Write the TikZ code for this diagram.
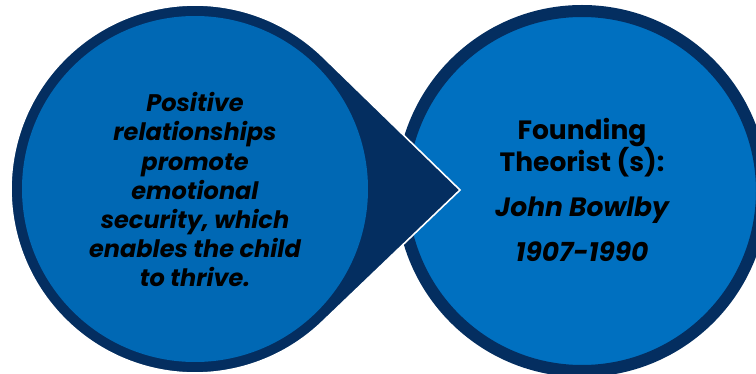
\documentclass[tikz,border=0pt]{standalone}
\usepackage{fontspec}
\setmainfont{Poppins}
\usetikzlibrary{calc}
\definecolor{navyring}{RGB}{4,46,96}
\definecolor{leftblue}{RGB}{0,104,180}
\definecolor{rightblue}{RGB}{0,112,192}
\tikzset{ring node/.style={circle,draw=navyring,line width=12pt,fill=rightblue,minimum size=360pt,inner sep=0pt},
inner node/.style={circle,fill=leftblue,minimum size=346pt,inner sep=0pt},
idea text/.style={align=center,inner sep=0pt,anchor=base,font=\fontsize{24}{29.2}\selectfont\bfseries\itshape},
name text/.style={align=center,inner sep=0pt,anchor=base,font=\fontsize{26.5}{32}\selectfont\bfseries},
}

\begin{document}
\begin{tikzpicture}[x=1pt,y=-1pt]
	\useasboundingbox (0,0) rectangle (756,374);
	\node[ring node] (R) at (582,191) {};
	\coordinate (L) at (195,189);
	\coordinate (tip) at (460,190);
	% pointer of the left circle, outlined in white
	\fill[navyring,draw=white,line width=1.6pt] (tip) -- ($(L)+(46.2:184)$) arc[start angle=46.2,end angle=313.8,radius=184] -- cycle;
	\node[inner node] (Lin) at (L) {};
	
	\node[idea text] (idea) at (195,287) {Positive\\relationships\\promote\\emotional\\security, which\\enables the child\\to thrive.};
	\node[name text] (founding) at (582,172) {Founding\\Theorist (s):};
	\node[name text,font=\fontsize{26.5}{32}\selectfont\bfseries\itshape] (bowlby) at (582,217) {John Bowlby};
	\node[name text,font=\fontsize{26.5}{32}\selectfont\bfseries\itshape] (years) at (582,262) {1907-1990};
\end{tikzpicture}
\end{document}
